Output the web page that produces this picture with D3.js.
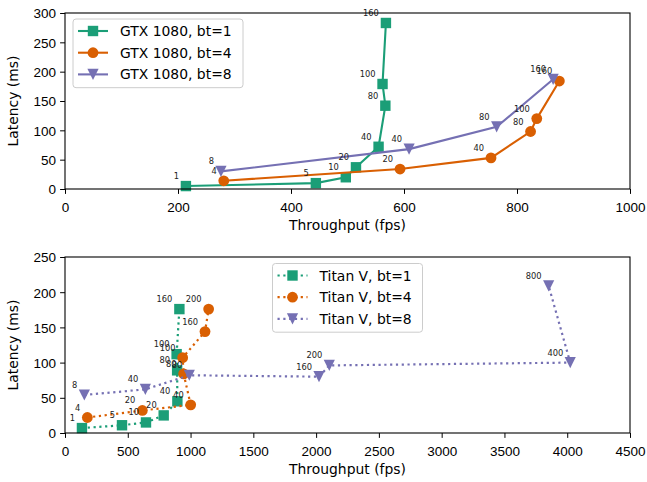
<!DOCTYPE html>
<html>
<head>
<meta charset="utf-8">
<script src="https://cdn.jsdelivr.net/npm/d3@7"></script>
<style>
  body { margin: 0; background: #fff; }
  svg { font-family: "DejaVu Sans", sans-serif; }
  .tick text { font-size: 13.5px; fill: #000; }
  .tick line, .domain { stroke: #000; }
  .ann { font-size: 8.3px; fill: #222; }
</style>
</head>
<body>
<div id="chart"></div>
<script>
// GTX 1080 data (throughput fps, latency ms, point label)
var gtxBt1Fps = [214, 444, 497, 515, 555, 567, 562, 568];
var gtxBt1Lat = [5, 10, 20, 37, 72, 142, 179, 283];
var gtxBt1Lbl = ["1", "5", "10", "20", "40", "80", "100", "160"];

var gtxBt4Fps = [281, 593, 754, 824, 835, 875];
var gtxBt4Lat = [14, 34, 53, 98, 120, 184];
var gtxBt4Lbl = ["4", "20", "40", "80", "100", "160"];

var gtxBt8Fps = [276, 609, 764, 864];
var gtxBt8Lat = [30, 68, 106, 187];
var gtxBt8Lbl = ["8", "40", "80", "160"];

// Titan V data
var titanBt1Fps = [135, 454, 645, 786, 895, 893, 889, 911];
var titanBt1Lat = [7, 11, 15, 25, 45, 89, 112, 176];
var titanBt1Lbl = ["1", "5", "10", "20", "40", "80", "100", "160"];

var titanBt4Fps = [178, 616, 1001, 945, 937, 1115, 1144];
var titanBt4Lat = [22, 32, 40, 84, 107, 144, 176];
var titanBt4Lbl = ["4", "20", "40", "80", "100", "160", "200"];

var titanBt8Fps = [154, 640, 990, 2023, 2105, 4024, 3852];
var titanBt8Lat = [54, 62, 82, 80, 96, 100, 209];
var titanBt8Lbl = ["8", "40", "80", "160", "200", "400", "800"];

// axis ticks
var topXTicks = [0, 200, 400, 600, 800, 1000];
var topYTicks = [0, 50, 100, 150, 200, 250, 300];
var botXTicks = [0, 500, 1000, 1500, 2000, 2500, 3000, 3500, 4000, 4500];
var botYTicks = [0, 50, 100, 150, 200, 250];

var width = 647;
var height = 482;
var colors = ["#1b9e77", "#d95f02", "#7570b3"];
var shapes = ["square", "circle", "triangle"];

var svg = d3.select("#chart")
    .append("svg")
    .attr("width", width)
    .attr("height", height);

function zip(fps, lat, lbl) {
    return fps.map(function (f, i) {
        return { x: f, y: lat[i], label: lbl[i] };
    });
}

function marker(g, shape, color) {
    if (shape === "square") {
        g.append("rect").attr("x", -5.2).attr("y", -5.2)
            .attr("width", 10.4).attr("height", 10.4).attr("fill", color);
    } else if (shape === "circle") {
        g.append("circle").attr("r", 5.4).attr("fill", color);
    } else {
        // triangle pointing down
        g.append("path").attr("d", "M-5.6,-5.6L5.6,-5.6L0,5.6Z").attr("fill", color);
    }
}

function drawPanel(cfg) {
    var left = 65, right = 630;
    var xScale = d3.scaleLinear().domain(cfg.xDomain).range([left, right]);
    var yScale = d3.scaleLinear().domain(cfg.yDomain).range([cfg.bottom, cfg.top]);

    var panel = svg.append("g");

    // series
    cfg.series.forEach(function (s, i) {
        var line = d3.line()
            .x(function (d) { return xScale(d.x); })
            .y(function (d) { return yScale(d.y); });

        var path = panel.append("path")
            .datum(s.data)
            .attr("d", line)
            .attr("fill", "none")
            .attr("stroke", colors[i])
            .attr("stroke-width", cfg.dotted ? 2.2 : 2.1);
        if (cfg.dotted) path.attr("stroke-dasharray", "2.2,3.6");

        panel.selectAll(null)
            .data(s.data)
            .enter()
            .append("g")
            .attr("transform", function (d) {
                return `translate(${xScale(d.x)},${yScale(d.y)})`;
            })
            .each(function () { marker(d3.select(this), shapes[i], colors[i]); });
    });

    // point labels drawn after all markers
    cfg.series.forEach(function (s) {
        panel.selectAll(null)
            .data(s.data)
            .enter()
            .append("text")
            .attr("class", "ann")
            .attr("text-anchor", "end")
            .attr("x", function (d) { return xScale(d.x) - 7; })
            .attr("y", function (d) { return yScale(d.y) - 7; })
            .text(function (d) { return d.label; });
    });

    // axes
    var xAxis = d3.axisBottom(xScale).tickValues(cfg.xTicks).tickSize(4.9).tickPadding(4).tickFormat(d3.format("d"));
    var yAxis = d3.axisLeft(yScale).tickValues(cfg.yTicks).tickSize(4.9).tickPadding(4).tickFormat(d3.format("d"));

    var gx = panel.append("g")
        .attr("transform", `translate(0, ${cfg.bottom})`)
        .call(xAxis);
    var gy = panel.append("g")
        .attr("transform", `translate(${left}, 0)`)
        .call(yAxis);
    gx.select(".domain").remove();
    gy.select(".domain").remove();
    gx.selectAll(".tick text").attr("dy", null).attr("y", 22.5);
    gy.selectAll(".tick text").attr("dy", "0.36em");

    // frame (all four spines)
    panel.append("rect")
        .attr("x", left).attr("y", cfg.top)
        .attr("width", right - left).attr("height", cfg.bottom - cfg.top)
        .attr("fill", "none").attr("stroke", "#000").attr("stroke-width", 1.1);

    // axis labels
    panel.append("text")
        .attr("x", (left + right) / 2)
        .attr("y", cfg.bottom + 40.5)
        .attr("text-anchor", "middle")
        .attr("font-size", 13.9)
        .text("Throughput (fps)");

    panel.append("text")
        .attr("transform", `translate(18, ${(cfg.top + cfg.bottom) / 2}) rotate(-90)`)
        .attr("text-anchor", "middle")
        .attr("font-size", 13.9)
        .text("Latency (ms)");

    // legend
    var lg = panel.append("g").attr("transform", `translate(${cfg.legendX}, ${cfg.legendY})`);
    lg.append("rect")
        .attr("width", cfg.legendW).attr("height", 68.7)
        .attr("rx", 3).attr("ry", 3)
        .attr("fill", "#fff").attr("fill-opacity", 0.8)
        .attr("stroke", "#cccccc").attr("stroke-width", 1);
    cfg.series.forEach(function (s, i) {
        var cy = 12 + i * 21.7;
        var hl = lg.append("line")
            .attr("x1", 5).attr("x2", 35)
            .attr("y1", cy).attr("y2", cy)
            .attr("stroke", colors[i])
            .attr("stroke-width", cfg.dotted ? 2.2 : 2.1);
        if (cfg.dotted) hl.attr("stroke-dasharray", "2.2,3.6");
        var mg = lg.append("g").attr("transform", `translate(20, ${cy})`);
        marker(mg, shapes[i], colors[i]);
        lg.append("text")
            .attr("x", 47).attr("y", cy + 5)
            .attr("font-size", 13.9)
            .text(s.name);
    });
}

drawPanel({
    top: 13, bottom: 189,
    xDomain: [0, 1000], yDomain: [0, 300],
    xTicks: topXTicks, yTicks: topYTicks,
    dotted: false,
    legendX: 73, legendY: 19, legendW: 170,
    series: [
        { name: "GTX 1080, bt=1", data: zip(gtxBt1Fps, gtxBt1Lat, gtxBt1Lbl) },
        { name: "GTX 1080, bt=4", data: zip(gtxBt4Fps, gtxBt4Lat, gtxBt4Lbl) },
        { name: "GTX 1080, bt=8", data: zip(gtxBt8Fps, gtxBt8Lat, gtxBt8Lbl) }
    ]
});

drawPanel({
    top: 257, bottom: 433,
    xDomain: [0, 4500], yDomain: [0, 250],
    xTicks: botXTicks, yTicks: botYTicks,
    dotted: true,
    legendX: 272.5, legendY: 263.5, legendW: 150,
    series: [
        { name: "Titan V, bt=1", data: zip(titanBt1Fps, titanBt1Lat, titanBt1Lbl) },
        { name: "Titan V, bt=4", data: zip(titanBt4Fps, titanBt4Lat, titanBt4Lbl) },
        { name: "Titan V, bt=8", data: zip(titanBt8Fps, titanBt8Lat, titanBt8Lbl) }
    ]
});
</script>
</body>
</html>
